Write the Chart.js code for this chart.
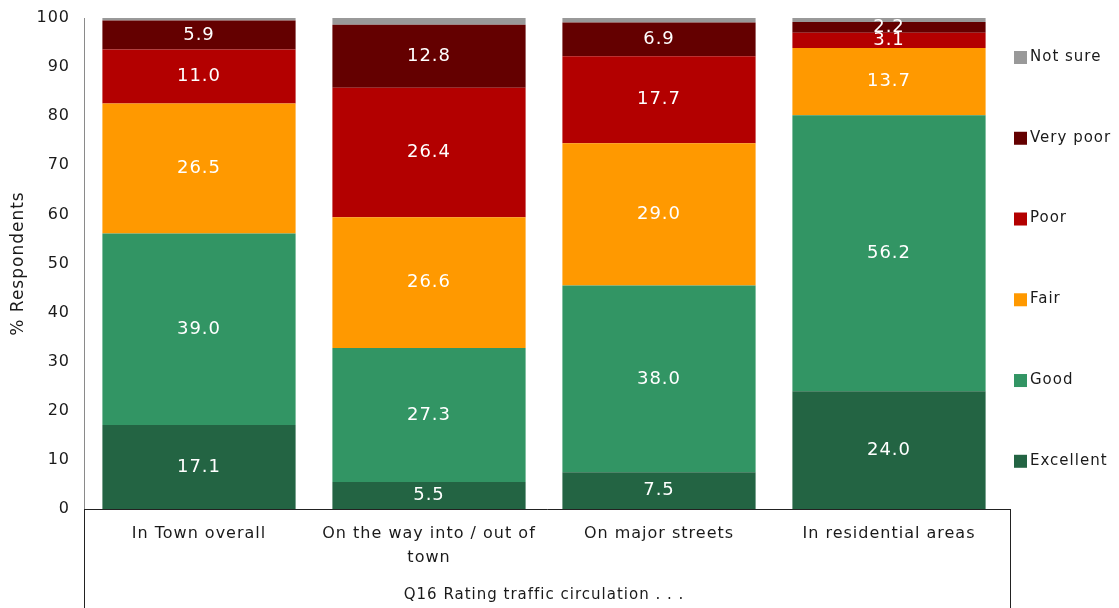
<!DOCTYPE html>
<html>
<head>
<meta charset="utf-8">
<script src="https://cdn.jsdelivr.net/npm/chart.js@4/dist/chart.umd.min.js"></script>
<style>
  html, body { margin: 0; padding: 0; background: #fff; }
  #wrap { width: 1119px; height: 608px; }
</style>
</head>
<body>
<div id="wrap"><canvas id="c" width="1119" height="608"></canvas></div>
<script>
// Traffic circulation ratings, % of respondents
const categories = ['In Town overall', ['On the way into / out of', 'town'], 'On major streets', 'In residential areas'];
const excellent = [17.1, 5.5, 7.5, 24.0];
const good      = [39.0, 27.3, 38.0, 56.2];
const fair      = [26.5, 26.6, 29.0, 13.7];
const poor      = [11.0, 26.4, 17.7, 3.1];
const veryPoor  = [5.9, 12.8, 6.9, 2.2];
const notSure   = [0.5, 1.4, 0.9, 0.8];
const yTicks    = [0, 10, 20, 30, 40, 50, 60, 70, 80, 90, 100];

const FONT = "'DejaVu Sans', sans-serif";
const TEXT = '#1a1a1a';

const series = [
  { label: 'Excellent', data: excellent, color: '#236443', showValue: true },
  { label: 'Good',      data: good,      color: '#329564', showValue: true },
  { label: 'Fair',      data: fair,      color: '#ff9900', showValue: true },
  { label: 'Poor',      data: poor,      color: '#b30000', showValue: true },
  { label: 'Very poor', data: veryPoor,  color: '#640000', showValue: true },
  { label: 'Not sure',  data: notSure,   color: '#999999', showValue: false }
];

// Slightly tracked-out text everywhere on the canvas
const tracking = {
  id: 'tracking',
  beforeDraw(chart) { chart.ctx.letterSpacing = '1px'; }
};

// White value labels centred in each segment
const valueLabels = {
  id: 'valueLabels',
  afterDatasetsDraw(chart) {
    const ctx = chart.ctx;
    ctx.save();
    ctx.font = '18px ' + FONT;
    ctx.letterSpacing = '1px';
    ctx.fillStyle = '#ffffff';
    ctx.textAlign = 'center';
    ctx.textBaseline = 'middle';
    chart.data.datasets.forEach((ds, i) => {
      if (!series[i].showValue) return;
      chart.getDatasetMeta(i).data.forEach((bar, j) => {
        const p = bar.getProps(['x', 'y', 'base'], true);
        ctx.fillText(ds.data[j].toFixed(1), p.x, (p.y + p.base) / 2);
      });
    });
    ctx.restore();
  }
};

// Legend on the right, top item = last series
const sideLegend = {
  id: 'sideLegend',
  afterDraw(chart) {
    const ctx = chart.ctx;
    const area = chart.chartArea;
    const x0 = area.right + 10;
    const step = (area.bottom - area.top) / 6.08;
    ctx.save();
    ctx.font = '15px ' + FONT;
    ctx.letterSpacing = '1px';
    ctx.textBaseline = 'middle';
    ctx.textAlign = 'left';
    series.slice().reverse().forEach((s, k) => {
      const cy = area.top + 39 + k * step;
      ctx.fillStyle = s.color;
      ctx.fillRect(x0, cy - 6, 13, 13);
      ctx.fillStyle = TEXT;
      ctx.fillText(s.label, x0 + 16, cy);
    });
    ctx.restore();
  }
};

// Frame around the category axis
const axisFrame = {
  id: 'axisFrame',
  afterDraw(chart) {
    const ctx = chart.ctx;
    const area = chart.chartArea;
    const H = chart.height;
    ctx.save();
    ctx.lineWidth = 1;
    ctx.strokeStyle = '#8a8a8a';
    ctx.beginPath();
    ctx.moveTo(area.left + 0.5, area.top);
    ctx.lineTo(area.left + 0.5, area.bottom);
    ctx.stroke();
    ctx.strokeStyle = '#222222';
    ctx.beginPath();
    ctx.moveTo(area.left + 0.5, area.bottom + 0.5);
    ctx.lineTo(area.right + 6, area.bottom + 0.5);
    ctx.moveTo(area.left + 0.5, area.bottom);
    ctx.lineTo(area.left + 0.5, H);
    ctx.moveTo(area.right + 6.5, area.bottom);
    ctx.lineTo(area.right + 6.5, H);
    ctx.stroke();
    ctx.restore();
  }
};

new Chart(document.getElementById('c'), {
  type: 'bar',
  data: {
    labels: categories,
    datasets: series.map(s => ({
      label: s.label,
      data: s.data,
      backgroundColor: s.color,
      borderWidth: 0,
      categoryPercentage: 1.0,
      barPercentage: 0.84
    }))
  },
  options: {
    responsive: false,
    animation: false,
    devicePixelRatio: 1,
    layout: { padding: { top: 18, right: 115, bottom: 0, left: 0 } },
    plugins: {
      legend: { display: false },
      title: { display: false },
      tooltip: { enabled: false }
    },
    scales: {
      x: {
        stacked: true,
        grid: { display: false, drawTicks: false },
        border: { display: false },
        ticks: {
          color: TEXT,
          font: { family: FONT, size: 16, lineHeight: 1.5 },
          padding: 13,
          maxRotation: 0,
          autoSkip: false
        },
        title: {
          display: true,
          text: 'Q16 Rating traffic circulation . . .',
          color: TEXT,
          font: { family: FONT, size: 15 },
          padding: { top: 6, bottom: 4 }
        },
        afterFit(scale) { scale.height = 99; }
      },
      y: {
        stacked: true,
        min: 0,
        max: 100,
        afterBuildTicks(scale) { scale.ticks = yTicks.map(v => ({ value: v })); },
        grid: { display: false, drawTicks: false },
        border: { display: false },
        ticks: {
          color: TEXT,
          font: { family: FONT, size: 16 },
          padding: 14
        },
        title: {
          display: true,
          text: '% Respondents',
          color: TEXT,
          font: { family: FONT, size: 17 },
          padding: { top: 8, bottom: 0 }
        },
        afterFit(scale) {
          scale.width = 84;
          scale.paddingTop = 0;
          scale.paddingBottom = 0;
        }
      }
    }
  },
  plugins: [tracking, valueLabels, sideLegend, axisFrame]
});
</script>
</body>
</html>
